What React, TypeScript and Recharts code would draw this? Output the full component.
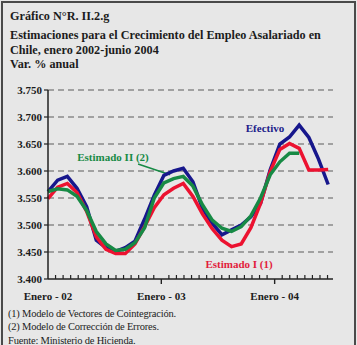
import { LineChart, Line, XAxis, YAxis, CartesianGrid, ReferenceLine } from "recharts";

// Enero 2002 - junio 2004, one entry per month
const meses = [
  "ene-02", "feb-02", "mar-02", "abr-02", "may-02", "jun-02", "jul-02", "ago-02", "sep-02", "oct-02", "nov-02", "dic-02",
  "ene-03", "feb-03", "mar-03", "abr-03", "may-03", "jun-03", "jul-03", "ago-03", "sep-03", "oct-03", "nov-03", "dic-03",
  "ene-04", "feb-04", "mar-04", "abr-04", "may-04", "jun-04",
];

const efectivo = [
  3.562, 3.583, 3.590, 3.568, 3.534, 3.472, 3.458, 3.451, 3.458, 3.470, 3.511, 3.555,
  3.592, 3.600, 3.605, 3.580, 3.530, 3.503, 3.482, 3.491, 3.500, 3.515, 3.540, 3.602,
  3.650, 3.663, 3.685, 3.662, 3.622, 3.575,
];

const estimadoI = [
  3.549, 3.570, 3.577, 3.560, 3.525, 3.478, 3.455, 3.447, 3.447, 3.465, 3.497, 3.532,
  3.556, 3.568, 3.577, 3.553, 3.520, 3.493, 3.472, 3.460, 3.465, 3.495, 3.540, 3.599,
  3.640, 3.651, 3.642, 3.602, 3.602, 3.603,
];

// the error-correction model stops in March 2004
const estimadoII = [
  3.562, 3.567, 3.565, 3.553, 3.527, 3.488, 3.465, 3.453, 3.455, 3.467, 3.495, 3.550,
  3.578, 3.586, 3.590, 3.572, 3.537, 3.509, 3.494, 3.488, 3.497, 3.517, 3.550, 3.593,
  3.617, 3.633, 3.633,
];

const yTicks = [3.4, 3.45, 3.5, 3.55, 3.6, 3.65, 3.7, 3.75];
const xLabels = ["Enero - 02", "Enero - 03", "Enero - 04"];

const data = meses.map((mes, i) => ({
  t: i,
  mes,
  efectivo: efectivo[i],
  estimadoI: estimadoI[i],
  estimadoII: i < estimadoII.length ? estimadoII[i] : null,
}));

// axis marks: 15 minor ticks per year, a long tick at each January
const TICK_STEP = 0.782;
const xTicks = Array.from({ length: 38 }, (_, k) => +(k * TICK_STEP).toFixed(3));

const serif = "'Liberation Serif', 'Times New Roman', serif";
const ink = "#1c1c1c";

const XTick = (props: any) => {
  const { x, y, index } = props;
  const major = index % 15 === 0;
  return (
    <g>
      {index > 0 && major ? (
        <line x1={x} x2={x} y1={y} y2={y + 5} stroke="#222" strokeWidth={1.4} />
      ) : null}
      {index > 0 && !major ? (
        <line x1={x} x2={x} y1={y} y2={y - 4} stroke="#222" strokeWidth={1.2} />
      ) : null}
      {major ? (
        <text
          x={x}
          y={y + 17}
          textAnchor="middle"
          dominantBaseline="central"
          fontFamily={serif}
          fontWeight="bold"
          fontSize={11}
          fill={ink}
        >
          {xLabels[index / 15]}
        </text>
      ) : null}
    </g>
  );
};

const titleLine = (text: string, top: number) => (
  <div
    style={{
      position: "absolute",
      left: 10,
      top,
      fontFamily: serif,
      fontWeight: "bold",
      fontSize: 12.2,
      lineHeight: "15px",
      color: ink,
      whiteSpace: "nowrap",
    }}
  >
    {text}
  </div>
);

const noteLine = (text: string, top: number) => (
  <div
    style={{
      position: "absolute",
      left: 8,
      top,
      fontFamily: serif,
      fontSize: 10.5,
      letterSpacing: -0.2,
      lineHeight: "13px",
      color: ink,
      whiteSpace: "nowrap",
    }}
  >
    {text}
  </div>
);

const seriesLabel = (text: string, color: string, cx: number, cy: number) => (
  <div
    style={{
      position: "absolute",
      left: cx,
      top: cy,
      transform: "translate(-50%, -50%)",
      fontFamily: serif,
      fontWeight: "bold",
      fontSize: 11,
      lineHeight: "13px",
      color,
      whiteSpace: "nowrap",
    }}
  >
    {text}
  </div>
);

export default function App() {
  return (
    <div
      style={{
        position: "absolute",
        left: 0,
        top: 0,
        width: 357,
        height: 345,
        overflow: "hidden",
        background: "#e7e7e7",
      }}
    >
      <div
        style={{
          position: "absolute",
          left: 1,
          top: 1,
          width: 351,
          height: 360,
          border: "2px solid #4a4a4a",
        }}
      />
      {titleLine("Gráfico N°R. II.2.g", 9)}
      {titleLine("Estimaciones para el Crecimiento del Empleo Asalariado en", 28)}
      {titleLine("Chile, enero 2002-junio 2004", 43)}
      {titleLine("Var. % anual", 57)}

      <div style={{ position: "absolute", left: 0, top: 0 }}>
        <LineChart
          width={357}
          height={345}
          data={data}
          margin={{ top: 90, right: 24, left: 0, bottom: 36 }}
        >
          <CartesianGrid
            vertical={false}
            horizontalValues={yTicks.slice(1)}
            stroke="#8a8a8a"
            strokeWidth={1.5}
            strokeDasharray="6 4"
          />
          <XAxis
            dataKey="t"
            type="number"
            domain={[0, 29.5]}
            ticks={xTicks}
            interval={0}
            height={30}
            tickSize={0}
            tickMargin={0}
            tickLine={false}
            axisLine={{ stroke: "#222", strokeWidth: 1.5 }}
            tick={<XTick />}
          />
          <YAxis
            type="number"
            domain={[3.4, 3.75]}
            ticks={yTicks}
            interval={0}
            width={48}
            tickSize={4}
            tickMargin={2}
            tickFormatter={(v: number) => v.toFixed(3)}
            axisLine={{ stroke: "#222", strokeWidth: 1.5 }}
            tickLine={{ stroke: "#222", strokeWidth: 1.2 }}
            tick={{ fontFamily: serif, fontWeight: "bold", fontSize: 11, fill: ink }}
          />
          <ReferenceLine
            segment={[
              { x: 9.32, y: 3.613 },
              { x: 12.63, y: 3.593 },
            ]}
            stroke="#178a45"
            strokeWidth={1.5}
          />
          <Line
            type="linear"
            dataKey="efectivo"
            stroke="#17178c"
            strokeWidth={3.5}
            dot={false}
            isAnimationActive={false}
          />
          <Line
            type="linear"
            dataKey="estimadoI"
            stroke="#ec1230"
            strokeWidth={3.5}
            dot={false}
            isAnimationActive={false}
          />
          <Line
            type="linear"
            dataKey="estimadoII"
            stroke="#178a45"
            strokeWidth={3.5}
            dot={false}
            connectNulls={false}
            isAnimationActive={false}
          />
        </LineChart>
      </div>

      {seriesLabel("Efectivo", "#20208a", 265, 128)}
      {seriesLabel("Estimado II (2)", "#178a45", 113, 157)}
      {seriesLabel("Estimado I (1)", "#e21c3c", 239, 264)}

      {noteLine("(1) Modelo de Vectores de Cointegración.", 307)}
      {noteLine("(2) Modelo de Corrección de Errores.", 320)}
      {noteLine("Fuente: Ministerio de Hicienda.", 334)}
    </div>
  );
}
